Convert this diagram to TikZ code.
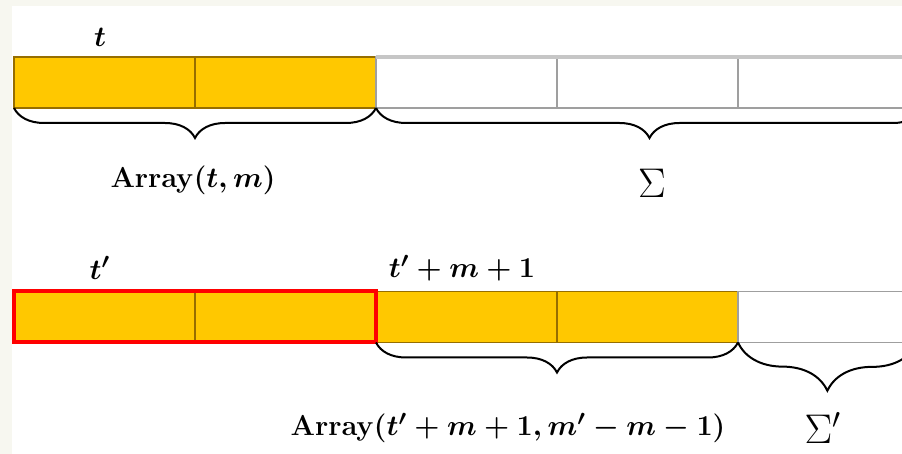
\documentclass[tikz,border=0pt]{standalone}
\usepackage{amsmath}
\usepackage{bm}
\usetikzlibrary{decorations.pathreplacing,positioning}
\definecolor{cellyellow}{RGB}{255,200,0}
\definecolor{celledge}{RGB}{150,110,0}
\definecolor{framebg}{RGB}{247,247,240}

\begin{document}
\begin{tikzpicture}[
	x=0.5pt, y=-0.5pt,
	cell/.style={
		minimum width=90.5pt,
		minimum height=25.5pt,
		inner sep=0pt,
		outer sep=0pt,
		line width=0.6pt
	},
	cellon/.style={cell, fill=cellyellow, draw=celledge},
	celloff/.style={cell, fill=white, draw=gray!75},
	mathlab/.style={
		font=\fontsize{15}{17}\selectfont\boldmath,
		inner sep=1pt
	},
	sumlab/.style={
		font=\fontsize{21}{23}\selectfont,
		inner sep=1pt
	},
	brace/.style={
		decorate,
		decoration={brace, mirror, amplitude=#1},
		line width=1pt
	},
	brace/.default=15pt
	]

	\useasboundingbox (0,0) rectangle (902,454);
	\fill[framebg] (0,0) rectangle (902,454);
	\fill[white] (12,6) rectangle (902,454);

	% 上方：原数组
	\foreach \i/\kind in {1/cellon,2/cellon,3/celloff,4/celloff,5/celloff}
		\node[\kind] (top\i) at ({14+181*(\i-0.5)},82.5) {};
	\draw[gray!45, line width=2pt] (top3.north west) -- (top5.north east);
	\coordinate (topend) at (923,108);

	\node[mathlab] (tlab) at (100,37) {$t$};
	\draw[brace] (top1.south west) -- (top2.south east);
	\draw[brace] (top3.south west) -- (topend);
	\node[mathlab] (arraylab) at (193,180) {$\mathbf{Array}(t,m)$};
	\node[sumlab] (sigmalab) at (652,183) {$\Sigma$};

	% 下方：扩展后的数组
	\foreach \i/\kind in {1/cellon,2/cellon,3/cellon,4/cellon,5/celloff}
		\node[\kind] (bot\i) at ({14+181*(\i-0.5)},317) {};
	\draw[red, line width=2pt] (bot1.north west) rectangle (bot2.south east);
	\coordinate (botend) at (917,343);

	\node[mathlab] (tplab) at (100,268) {$t'$};
	\node[mathlab] (tpmlab) at (462,268) {$t'+m+1$};
	\draw[brace] (bot3.south west) -- (bot4.south east);
	\draw[brace=24pt] (bot5.south west) -- (botend);
	\node[mathlab] (arraypmlab) at (508,428) {$\mathbf{Array}(t'+m+1,m'-m-1)$};
	\node[sumlab] (sigmaplab) at (823,428) {$\Sigma'$};

\end{tikzpicture}
\end{document}
